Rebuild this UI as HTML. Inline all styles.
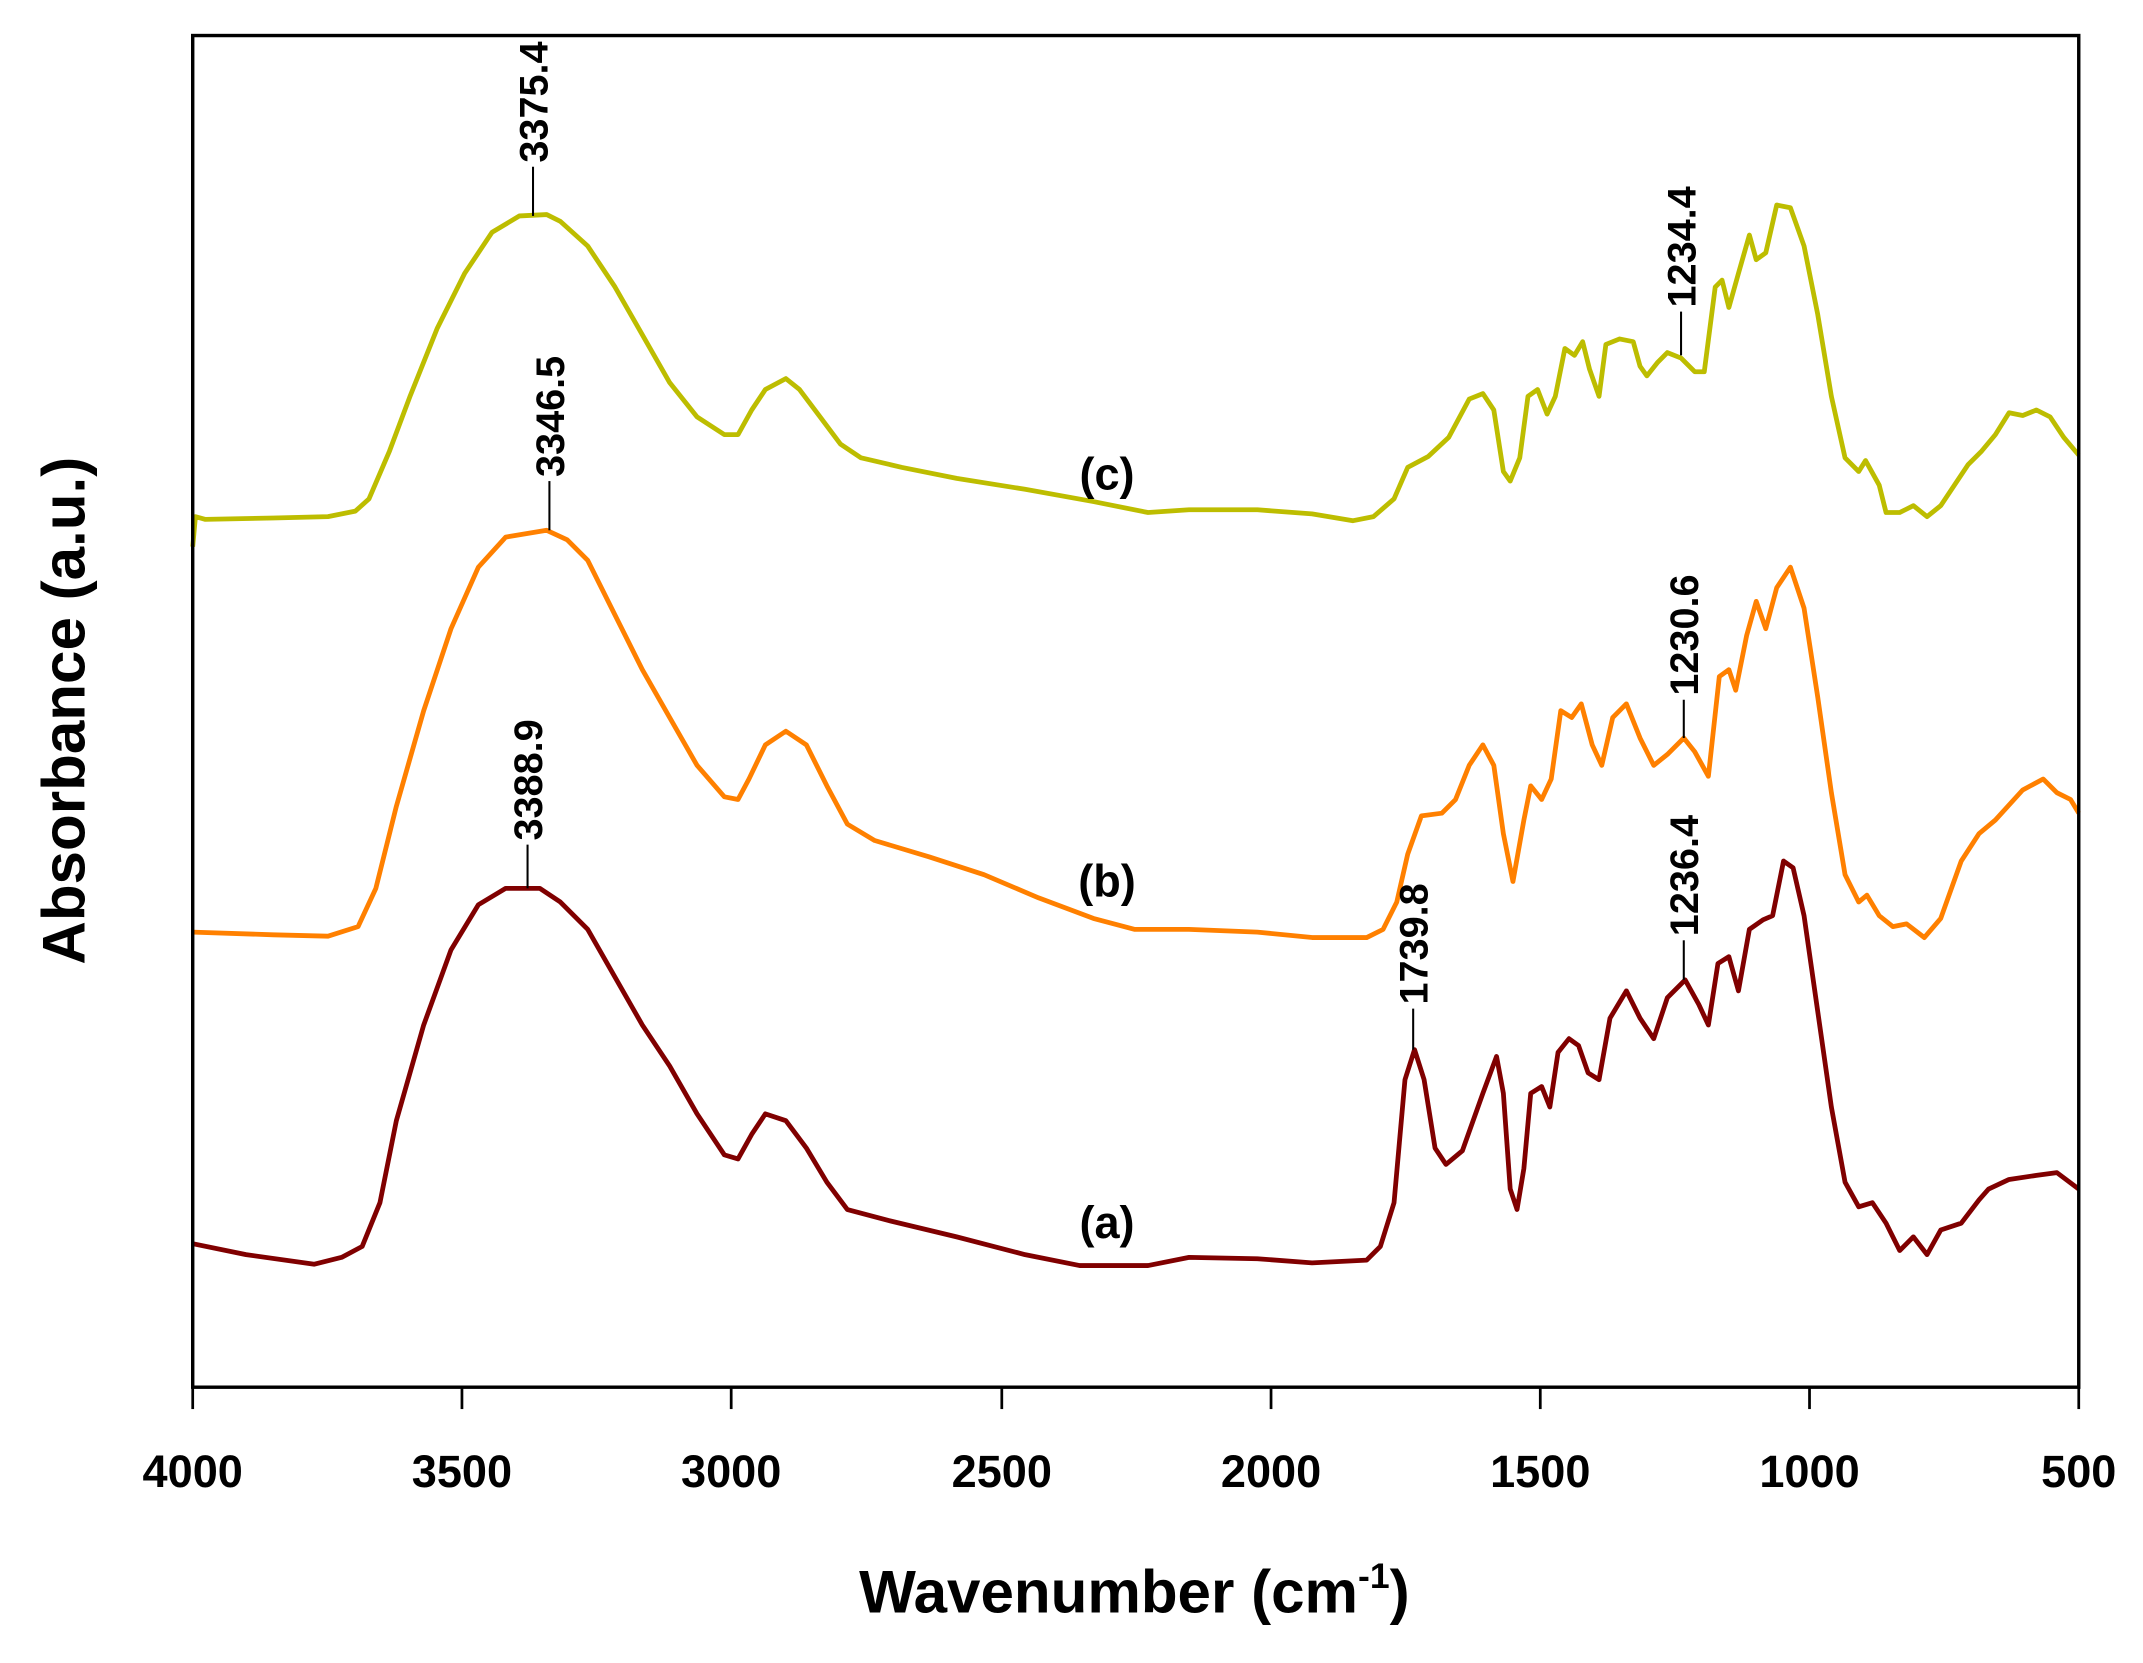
<!DOCTYPE html>
<html><head><meta charset="utf-8"><style>html,body{margin:0;padding:0;background:#fff}svg{display:block}</style></head><body>
<svg width="2143" height="1663" viewBox="0 0 1568 1216.8" xmlns="http://www.w3.org/2000/svg" font-family="Liberation Sans, Arial, sans-serif" font-weight="bold">
<rect x="0" y="0" width="1568" height="1217" fill="#fff"/>
<g fill="none" stroke-width="3.5" stroke-linejoin="round">
<polyline stroke="#bdbd00" points="141,400 143,378 150,380 200,379 240,378 260,374 270,365 285,330 300,290 320,240 340,200 360,170 380,158 400,157 410,162 430,180 450,210 470,245 490,280 510,305 530,318 540,318 550,300 560,285 575,277 585,285 600,305 615,325 630,335 660,342 700,350 750,358 800,367 840,375 870,373 920,373 960,376 990,381 1005,378 1020,365 1030,342 1045,334 1060,320 1075,292 1085,288 1093,300 1100,345 1105,352 1112,335 1118,290 1125,285 1132,303 1138,290 1145,255 1152,260 1158,250 1163,270 1170,290 1175,252 1185,248 1195,250 1200,268 1205,275 1213,265 1220,258 1230,262 1240,272 1247,272 1255,210 1260,205 1265,225 1272,200 1280,172 1285,190 1292,185 1300,150 1310,152 1320,180 1330,230 1340,290 1350,335 1360,345 1365,337 1375,355 1380,375 1390,375 1400,370 1410,378 1420,370 1430,355 1440,340 1450,330 1460,318 1470,302 1480,304 1490,300 1500,305 1510,320 1521,333"/>
<polyline stroke="#ff8000" points="141,682 200,684 240,685 262,678 275,650 290,590 310,520 330,460 350,415 370,393 400,388 415,395 430,410 450,450 470,490 490,525 510,560 530,583 540,585 548,570 560,545 575,535 590,545 605,575 620,603 640,615 680,627 720,640 760,657 800,672 830,680 870,680 920,682 960,686 1000,686 1012,680 1022,660 1030,625 1040,597 1055,595 1065,585 1075,560 1085,545 1093,560 1100,610 1107,645 1115,600 1120,575 1128,585 1135,570 1142,520 1150,525 1157,515 1165,545 1172,560 1180,525 1190,515 1200,540 1210,560 1220,552 1232,540 1240,550 1250,568 1258,495 1265,490 1270,505 1278,465 1285,440 1292,460 1300,430 1310,415 1320,445 1330,510 1340,580 1350,640 1360,660 1366,655 1375,670 1385,678 1395,676 1408,686 1420,672 1435,630 1448,610 1460,600 1480,578 1495,570 1505,580 1515,585 1521,595"/>
<polyline stroke="#800000" points="141,910 180,918 230,925 250,920 265,912 278,880 290,820 310,750 330,695 350,662 370,650 395,650 410,660 430,680 450,715 470,750 490,780 510,815 530,845 540,848 550,830 560,815 575,820 590,840 605,865 620,885 650,893 700,905 750,918 790,926 840,926 870,920 920,921 960,924 1000,922 1010,912 1020,880 1028,790 1035,768 1042,790 1050,840 1058,852 1070,842 1085,800 1095,773 1100,800 1105,870 1110,885 1115,855 1120,800 1128,795 1134,810 1140,770 1148,760 1155,765 1162,785 1170,790 1178,745 1190,725 1200,745 1210,760 1220,730 1233,717 1243,735 1250,750 1257,705 1265,700 1272,725 1280,680 1290,673 1297,670 1305,630 1312,635 1320,670 1330,740 1340,810 1350,865 1360,883 1370,880 1380,895 1390,915 1400,905 1410,918 1420,900 1435,895 1448,878 1455,870 1470,863 1490,860 1505,858 1521,870"/>
</g>
<g stroke="#000" stroke-width="1.5">
<line x1="390" y1="122" x2="390" y2="158"/>
<line x1="402" y1="352" x2="402" y2="388"/>
<line x1="386" y1="618" x2="386" y2="650"/>
<line x1="1034" y1="738" x2="1034" y2="768"/>
<line x1="1232" y1="688" x2="1232" y2="717"/>
<line x1="1232" y1="512" x2="1232" y2="540"/>
<line x1="1230" y1="228" x2="1230" y2="260"/>
</g>
<g font-size="29" fill="#000" dominant-baseline="central">
<text transform="translate(391,119) rotate(-90)">3375.4</text>
<text transform="translate(403,349) rotate(-90)">3346.5</text>
<text transform="translate(387,615) rotate(-90)">3388.9</text>
<text transform="translate(1035,735) rotate(-90)">1739.8</text>
<text transform="translate(1233,685) rotate(-90)">1236.4</text>
<text transform="translate(1233,509) rotate(-90)">1230.6</text>
<text transform="translate(1231,225) rotate(-90)">1234.4</text>
</g>
<g font-size="33" fill="#000" text-anchor="middle">
<text x="810" y="358">(c)</text>
<text x="810" y="656">(b)</text>
<text x="810" y="906">(a)</text>
</g>
<rect x="141" y="26" width="1380" height="989" fill="none" stroke="#000" stroke-width="2.5"/>
<g stroke="#000" stroke-width="2">
<line x1="141" y1="1015" x2="141" y2="1031"/><line x1="338" y1="1015" x2="338" y2="1031"/><line x1="535" y1="1015" x2="535" y2="1031"/><line x1="733" y1="1015" x2="733" y2="1031"/><line x1="930" y1="1015" x2="930" y2="1031"/><line x1="1127" y1="1015" x2="1127" y2="1031"/><line x1="1324" y1="1015" x2="1324" y2="1031"/><line x1="1521" y1="1015" x2="1521" y2="1031"/>
</g>
<g font-size="33" fill="#000" text-anchor="middle">
<text x="141" y="1088">4000</text><text x="338" y="1088">3500</text><text x="535" y="1088">3000</text><text x="733" y="1088">2500</text><text x="930" y="1088">2000</text><text x="1127" y="1088">1500</text><text x="1324" y="1088">1000</text><text x="1521" y="1088">500</text>
</g>
<text x="830" y="1180" font-size="44" text-anchor="middle">Wavenumber (cm<tspan dy="-18" font-size="26">-1</tspan><tspan dy="18">)</tspan></text>
<text transform="translate(62,520) rotate(-90)" font-size="44" text-anchor="middle">Absorbance (a.u.)</text>
</svg>
</body></html>
